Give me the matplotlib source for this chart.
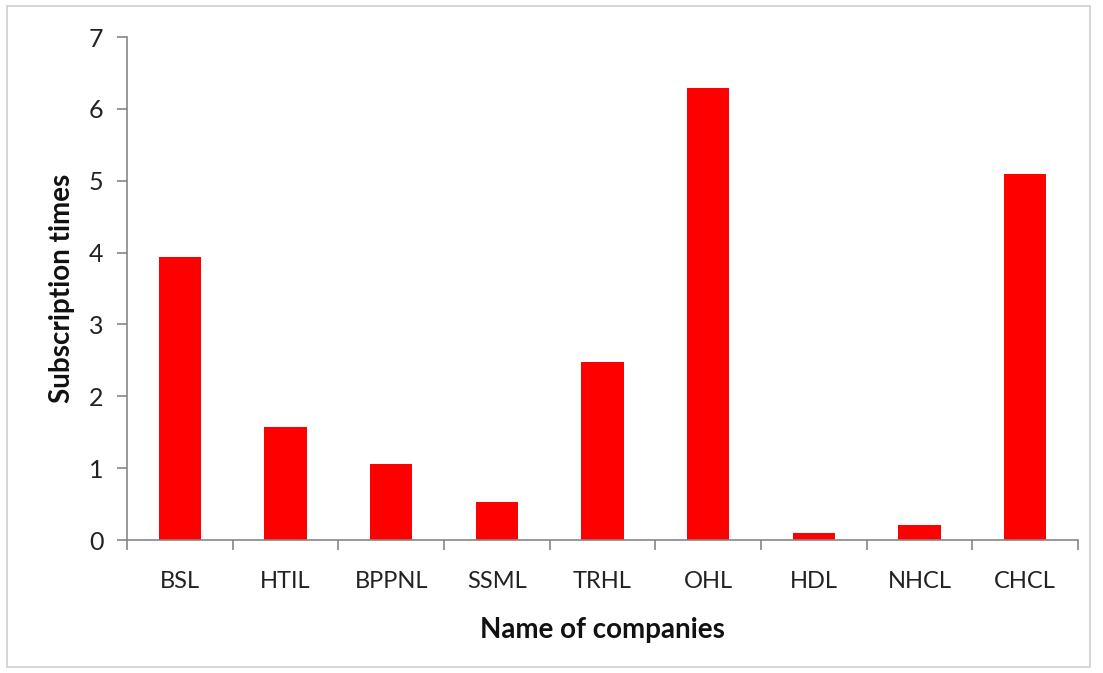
import matplotlib
matplotlib.use("Agg")
import matplotlib.pyplot as plt
from matplotlib.patches import Rectangle
import numpy as np

companies = ["BSL", "HTIL", "BPPNL", "SSML", "TRHL", "OHL", "HDL", "NHCL", "CHCL"]
subscription = [3.94, 1.57, 1.06, 0.53, 2.48, 6.29, 0.10, 0.21, 5.09]
y_ticks = [0, 1, 2, 3, 4, 5, 6, 7]

plt.rcParams["font.family"] = ["Lato", "DejaVu Sans"]

fig = plt.figure(figsize=(11.03, 6.73), dpi=100)
ax = fig.add_axes([127 / 1103, 1 - 540 / 673, (1078 - 127) / 1103, (540 - 37) / 673])

# outer chart border, like the spreadsheet frame
fig.patches.append(Rectangle((7 / 1103, 6 / 673), 1083 / 1103, 661 / 673,
                             transform=fig.transFigure, fill=False,
                             edgecolor="#d0d0d0", linewidth=1.2))

x = np.arange(len(companies))
ax.bar(x, subscription, width=0.4, color="#ff0000")

ax.set_xlim(-0.5, len(companies) - 0.5)
ax.set_ylim(0, 7)
ax.set_yticks(y_ticks)
ax.set_xticks(x)
ax.set_xticklabels(companies)
ax.set_xticks(np.arange(len(companies) + 1) - 0.5, minor=True)

gray = "#868686"
for side in ["top", "right"]:
    ax.spines[side].set_visible(False)
for side in ["left", "bottom"]:
    ax.spines[side].set_color(gray)
    ax.spines[side].set_linewidth(1.2)

ax.tick_params(axis="x", which="major", length=0, pad=22, labelsize=17, labelcolor="#222222")
ax.tick_params(axis="x", which="minor", length=7, color=gray, width=1.2)
ax.tick_params(axis="y", length=7, color=gray, width=1.2, labelsize=18,
               labelcolor="#222222", pad=10)

ax.set_ylabel("Subscription times", fontsize=20, fontweight="bold", labelpad=10,
              color="#111111")
ax.set_xlabel("Name of companies", fontsize=20, fontweight="bold", labelpad=18,
              color="#111111")

fig.savefig("out.png", dpi=100)
plt.close(fig)
